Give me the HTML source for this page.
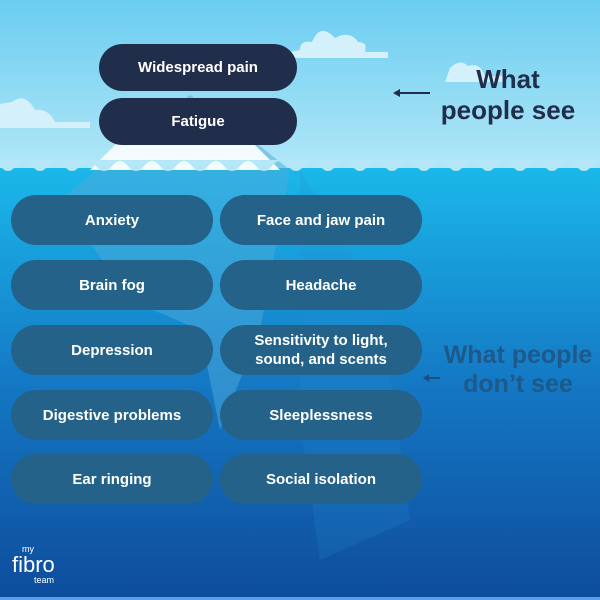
<!DOCTYPE html>
<html><head><meta charset="utf-8"><style>
body{margin:0;width:600px;height:600px;overflow:hidden;font-family:"Liberation Sans",sans-serif}
.p{position:absolute;border-radius:25px;color:#fff;font-weight:bold;font-size:15px;display:flex;align-items:center;justify-content:center;text-align:center;line-height:19px}
.t{background:#212e4b;left:99px;width:198px;height:47px}
.u{background:#24628a;width:202px;height:50px}
.l{left:11px}.r{left:220px}
</style></head><body>
<svg width="600" height="600" style="position:absolute;left:0;top:0">
<defs>
<linearGradient id="s" x1="0" y1="0" x2="0" y2="1"><stop offset="0" stop-color="#6acdf0"/><stop offset="1" stop-color="#b4e8f8"/></linearGradient>
<linearGradient id="w" x1="0" y1="0" x2="0" y2="1"><stop offset="0" stop-color="#1bb8ea"/><stop offset="0.5" stop-color="#1478c4"/><stop offset="1" stop-color="#0e4c9c"/></linearGradient>
</defs>
<rect width="600" height="175" fill="url(#s)"/>
<rect y="168" width="600" height="432" fill="url(#w)"/>
<g fill="#d4f1fb">
<path d="M290 58 L388 58 L388 52 L365 52 Q368 42 358 42 Q350 30 335 38 Q320 22 312 42 Q300 40 300 50 L290 52Z"/>
<path d="M445 82 L505 82 L505 76 L485 76 Q480 62 468 66 Q460 58 450 68Z"/>
<path d="M0 128 L90 128 L90 122 L55 122 Q48 108 35 110 Q25 92 12 102 L0 104Z"/>
</g>
<polygon points="60,200 120,150 190,95 240,130 290,170 260,330 220,430 200,330 130,300" fill="#4ea9d9" opacity="0.5"/>
<polygon points="300,170 380,300 410,520 320,560 300,420" fill="#2a8ad0" opacity="0.2"/>
<polygon points="90,170 160,100 230,120 280,170" fill="#f4fbfe"/>
<path d="M0 166 Q8 176 16 166 T32 166 T48 166 T64 166 T80 166 T96 166 T112 166 T128 166 T144 166 T160 166 T176 166 T192 166 T208 166 T224 166 T240 166 T256 166 T272 166 T288 166 T304 166 T320 166 T336 166 T352 166 T368 166 T384 166 T400 166 T416 166 T432 166 T448 166 T464 166 T480 166 T496 166 T512 166 T528 166 T544 166 T560 166 T576 166 T592 166 T608 166 L600 160 L0 160Z" fill="#b4e8f8"/>
<rect y="597" width="600" height="3" fill="#5b9ee6"/>
<line x1="396" y1="93" x2="430" y2="93" stroke="#212e4b" stroke-width="2"/>
<polygon points="393,93 400,89 400,97" fill="#212e4b"/>
<line x1="427" y1="378" x2="440" y2="378" stroke="#1b4f7e" stroke-width="2"/>
<polygon points="423,378 429,374 429,382" fill="#1b4f7e"/>
</svg>
<div class="p t" style="top:44px">Widespread pain</div>
<div class="p t" style="top:98px">Fatigue</div>
<div class="p u l" style="top:195px">Anxiety</div>
<div class="p u r" style="top:195px">Face and jaw pain</div>
<div class="p u l" style="top:260px">Brain fog</div>
<div class="p u r" style="top:260px">Headache</div>
<div class="p u l" style="top:325px">Depression</div>
<div class="p u r" style="top:325px">Sensitivity to light,<br>sound, and scents</div>
<div class="p u l" style="top:390px">Digestive problems</div>
<div class="p u r" style="top:390px">Sleeplessness</div>
<div class="p u l" style="top:454px">Ear ringing</div>
<div class="p u r" style="top:454px">Social isolation</div>
<div style="position:absolute;left:434px;top:64px;width:148px;text-align:center;color:#212e4b;font-weight:bold;font-size:26px;line-height:31px">What<br>people see</div>
<div style="position:absolute;left:438px;top:341px;width:160px;text-align:center;color:#1d5a8a;font-weight:bold;font-size:25px;line-height:29px">What people<br>don’t see</div>
<div style="position:absolute;left:12px;top:545px;color:#fff;line-height:1">
<div style="font-size:9px;margin-left:10px">my</div>
<div style="font-size:22px">fibro</div>
<div style="font-size:9px;margin-left:22px">team</div></div>
</body></html>
